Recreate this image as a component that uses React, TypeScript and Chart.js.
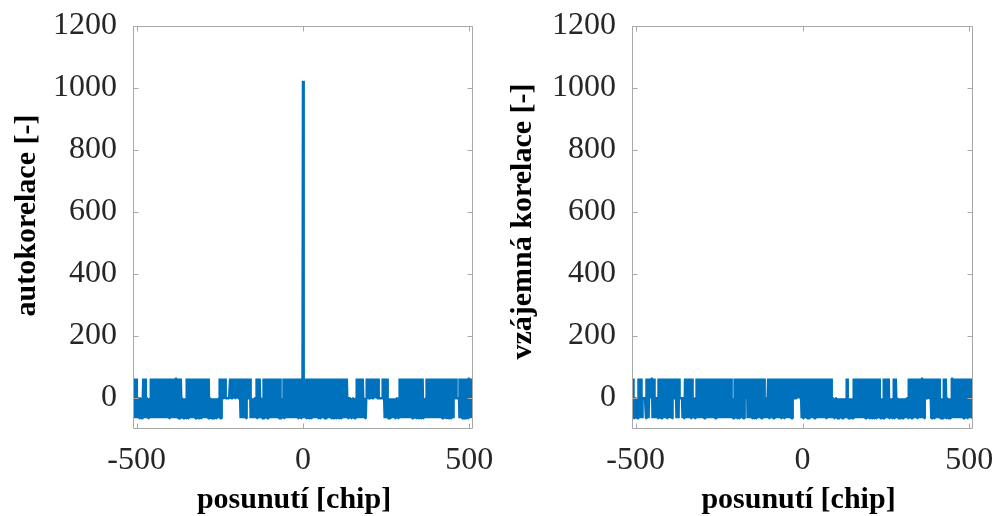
import { useEffect, useRef } from "react";
import { Chart, registerables } from "chart.js";

Chart.register(...registerables);

// ---- data -------------------------------------------------------------
const LAG_FIRST = -511; // first lag (chip), one value per chip up to +511
const X_MIN = -511;
const X_MAX = 511;
const X_TICKS = [-500, 0, 500];
const Y_MIN = -100;
const Y_MAX = 1200;
const Y_TICKS = [0, 200, 400, 600, 800, 1000, 1200];

// value codes: "+" = 63, "0" = -1, "-" = -65, "P" = 1023
const CODE: Record<string, number> = { "+": 63, "0": -1, "-": -65, P: 1023 };

// autocorrelation, 10 lags per group starting at -511
const AUTO_GROUPS = [
  "0+-0+0-+0-", "+0-0-00-0-", "-00-0-00-0", "0+-0+0-+0-", "0-00-0-0-0", "0-00+0-+0+", "-0+00+-0+0", "+0-00+0-+0", "0+0-+00-0+", "-+0+0-0+-0",
  "0-0+0-+0+-", "00+-0+-0+0", "0+-0+0-00+", "+-0+00-+0-", "0+-0+0-00-", "0-00-0-0-0", "-0+00+-0+0", "0+0-+00-0+", "+0-00+0-+0", "-+00+0-+0-",
  "0-0+0-+0+-", "-+0+0-0+-0", "0+-00+-0+-", "-00-0-00-0", "0-00-0-0-0", "-0-00-0-00", "0+-0+-0+0+", "+0+0+00+00", "0000000000", "00+0+00+0+",
  "0+00+0+0+0", "+00+0+00+0", "0+0+-0+-0+", "0+-0+0-00+", "-0+0+00+00", "+0+0-00-0-", "-00-0-00-0", "0+0-+00-0+", "-+0-00-0-0", "0-+0-+00+-",
  "00+-0+-0+0", "+-0+00-+0-", "-0+00+-0+0", "0-0+0-+0+-", "0+-+0-0-00", "-0+0-+0+-0", "+0-00+0-+0", "0+0-+00-0+", "-+0+0-0+-0", "0+-0+0-00+",
  "0-0+0-+0+-", "0P+0-0+-0+", "+-0+00-+0-", "-0+00+-0+0", "00+-0+-0+0", "+0-00+0-+0", "0+0-+00-0+", "-+0+0-0+-0", "0-0+0-+0+-", "0+-0+0-00+",
  "+0-+0-0-00", "+-0+00-+0-", "-0+00+-0+0", "0+0-+00-0+", "-+0+0-0-00", "0-00-0-0-0", "-00-0-00-0", "00+-0+-0+0", "+0-00+0-+0", "-+0-00-0-0",
  "-0+0+0+00+", "0+00+0+0+0", "+00+0+00+0", "0+0+00+0+0", "0000000000", "0+0+00+-0+", "-0+-0+0-0-", "-00-0-00-0", "0-00-0-0-0", "-0-00-0-00",
  "0-+0-+0+-0", "0+0-+00-0+", "-+0+0-0+-0", "0-0+0-+0+-", "0+-0+0-00+", "+-0+00-+0-", "-0+00+-0+0", "0+-0-00-0-", "00+-0+-0+0", "+0-00+0-+0",
  "0+0-+00-0+", "-+0+0-0+-0", "0-0+0-+0+-", "0+-0+0-00+", "+-0+00-+0-", "-0+00+-0+0", "-0+-+00+0+", "0+00000000", "0+-0+-0+0-", "+0-+0-+0-0",
  "0-0-+0+-0+", "+0-00+0-+0", "0+-",
];

// cross-correlation, 10 lags per group starting at -511
const CROSS_GROUPS = [
  "00+0+0-0-0", "-00-0-00-+", "-0+-0+0+-0", "0-00000000", "00-0+0-+0+", "-0+0+00+0+", "+0-0+-0+-0", "-00000-0-+", "0+0-+00-0+", "-+0+0-0+-0",
  "0-0+0-+0+-", "0+-0+0-00+", "-0+0+00+0+", "0+0-+0-+0+", "-+00000000", "0-00-0-0-+", "-0+00+-0+0", "+0-00+0-+0", "0+-0-00-0-", "-00-+0+-0+",
  "00+-0+-0+0", "+-0+00-+0-", "0+0-+00-0+", "-+0+0-0+-0", "0-0+0-+0+-", "0+-0+0-00+", "-0+00+-0+0", "+0-00+0-+0", "0+0-+00-0+", "-+0+0-0+-0",
  "0-0-00-+0+", "0-0+0-+0+-", "+-0+00-+0-", "00+-0+-0+0", "+0+00+-0+-", "0+-0+0-00+", "-0+00+-0+0", "+0-00+0-+0", "0+0-+00-0+", "-+0+0-0+-0",
  "0-0-00-0+-", "0-0+0-+0+-", "00+-0+-0+0", "+-0+00-+0-", "0+00+0+-0+", "0+-0+0-00+", "-0+00+-0+0", "+0-00+0-+0", "-0+0+00+0+", "+00+0+00+0",
  "0+0+00+0+-", "0+0-+00-0+", "-+0+0-0+-0", "0-0+0-+0+-", "+-0+00-+0-", "-0+00+-0+0", "00+-0+-0+0", "+0-00+0-+0", "0+-0+0-00+", "-0+-0+0+-0",
  "0-00-0-0-0", "-00-0-00-0", "0-0-00-0-0", "-00-0-00-0", "0-0+0+-0-0", "0-00-0-0-0", "-00-+0+-0+", "0+0-+00-0+", "-+0+0-0+-0", "0-0+0-+0+-",
  "0+-0+0-00+", "+-0+00-+0-", "-0+00+-0+0", "+0-00+0-+0", "0+-0-00-0-", "0-0-+0-+0+", "00+-0+-0+0", "+-0-00-0-0", "-0-0+0-+0+", "-+0-00-0-0",
  "0-00-0-0-0", "-00-0-00-0", "0-0-00-0-+", "0+0-+00-0+", "-+0+0-0+-0", "0-0+0-+0+-", "0+-0+0-00+", "+-0+00-+0+", "0+00+0+0+0", "+00+0+0-+0",
  "-0+00+-0+0", "+-0+00-+0-", "0+-0-00-0-", "-00-+0+-0+", "0+--00-0-0", "0-00-0-0-+", "+0-00+0-+0", "0+0-+00-0+", "-+0+0-0+-0", "00+-0+-0+0",
  "0-0+0-+0+-", "0+-0+0-00+", "-0+",
];

const X_TITLE = "posunutí [chip]";
const Y_TITLE_AUTO = "autokorelace [-]";
const Y_TITLE_CROSS = "vzájemná korelace [-]";

function decode(groups: string[]): number[] {
  return groups.join("").split("").map((c) => CODE[c]);
}
const AUTO_VALUES = decode(AUTO_GROUPS);
const CROSS_VALUES = decode(CROSS_GROUPS);

// ---- styles -----------------------------------------------------------
const LINE_COLOR = "#0072BD";
const AXIS_COLOR = "#a8a8a8";
const TICK_TEXT = "#262626";
const TITLE_TEXT = "#000000";
const SERIF = "'Liberation Serif', 'Times New Roman', serif";
const TICK_LEN = 5;

const boxPlugin = {
  id: "matlabBox",
  afterDatasetsDraw(chart: any) {
    const { ctx, chartArea: a, scales } = chart;
    const x = scales.x;
    const y = scales.y;
    const L = Math.round(a.left) + 0.5;
    const R = Math.round(a.right) - 0.5;
    const T = Math.round(a.top) + 0.5;
    const B = Math.round(a.bottom) - 0.5;
    ctx.save();
    ctx.strokeStyle = AXIS_COLOR;
    ctx.lineWidth = 1;
    ctx.beginPath();
    ctx.rect(L, T, R - L, B - T);
    for (const t of x.ticks) {
      const px = Math.round(x.getPixelForValue(t.value)) + 0.5;
      ctx.moveTo(px, B);
      ctx.lineTo(px, B - TICK_LEN);
      ctx.moveTo(px, T);
      ctx.lineTo(px, T + TICK_LEN);
    }
    for (const t of y.ticks) {
      const py = Math.round(y.getPixelForValue(t.value)) + 0.5;
      ctx.moveTo(L, py);
      ctx.lineTo(L + TICK_LEN, py);
      ctx.moveTo(R, py);
      ctx.lineTo(R - TICK_LEN, py);
    }
    ctx.stroke();
    ctx.restore();
  },
};

// nudge an axis title (the reference labels sit slightly off-centre)
function shiftTitle(s: any, dx: number, dy: number) {
  if (s.__titleShifted) return;
  const orig = s.drawTitle.bind(s);
  s.drawTitle = () => {
    s.ctx.save();
    s.ctx.translate(dx, dy);
    orig();
    s.ctx.restore();
  };
  s.__titleShifted = true;
}

type PanelCfg = {
  values: number[];
  yTitle: string;
  yWidth: number;
  padRight: number;
  xTitleDx: number;
  yTitleDy: number;
};

function makeConfig(p: PanelCfg): any {
  return {
    type: "line",
    data: {
      datasets: [
        {
          data: p.values.map((v, i) => ({ x: LAG_FIRST + i, y: v })),
          borderColor: LINE_COLOR,
          backgroundColor: LINE_COLOR,
          borderWidth: 2.5,
          borderJoinStyle: "bevel",
          pointRadius: 0,
          tension: 0,
          fill: false,
        },
      ],
    },
    options: {
      animation: false,
      responsive: false,
      devicePixelRatio: 1,
      layout: { padding: { left: 0, right: p.padRight, top: 26, bottom: 0 } },
      plugins: {
        legend: { display: false },
        tooltip: { enabled: false },
        title: { display: false },
      },
      scales: {
        x: {
          type: "linear",
          min: X_MIN,
          max: X_MAX,
          afterBuildTicks: (s: any) => {
            s.ticks = X_TICKS.map((v) => ({ value: v }));
          },
          afterFit: (s: any) => {
            s.height = 87;
            s.paddingLeft = 0;
            s.paddingRight = 0;
          },
          afterUpdate: (s: any) => shiftTitle(s, p.xTitleDx, 0),
          grid: { display: false, drawTicks: false },
          border: { display: false },
          ticks: {
            font: { family: SERIF, size: 32 },
            color: TICK_TEXT,
            padding: 12,
            maxRotation: 0,
            autoSkip: false,
            callback: (v: any) => String(v),
          },
          title: {
            display: true,
            text: X_TITLE,
            color: TITLE_TEXT,
            font: { family: SERIF, size: 30, weight: "bold", lineHeight: 1 },
            padding: { top: 0, bottom: 1 },
          },
        },
        y: {
          type: "linear",
          min: Y_MIN,
          max: Y_MAX,
          afterBuildTicks: (s: any) => {
            s.ticks = Y_TICKS.map((v) => ({ value: v }));
          },
          afterFit: (s: any) => {
            s.width = p.yWidth;
            s.paddingTop = 0;
            s.paddingBottom = 0;
          },
          afterUpdate: (s: any) => shiftTitle(s, 0, p.yTitleDy),
          grid: { display: false, drawTicks: false },
          border: { display: false },
          ticks: {
            font: { family: SERIF, size: 32 },
            color: TICK_TEXT,
            padding: 16,
            autoSkip: false,
            callback: (v: any) => String(v),
          },
          title: {
            display: true,
            text: p.yTitle,
            color: TITLE_TEXT,
            font: { family: SERIF, size: 30, weight: "bold", lineHeight: 1 },
            padding: { top: 12, bottom: 0 },
          },
        },
      },
    },
    plugins: [boxPlugin],
  };
}

function Panel(props: PanelCfg & { left: number }) {
  const ref = useRef<HTMLCanvasElement | null>(null);
  useEffect(() => {
    if (!ref.current) return;
    const chart = new Chart(ref.current, makeConfig(props));
    return () => chart.destroy();
  }, []);
  return (
    <canvas
      ref={ref}
      width={496}
      height={516}
      style={{ position: "absolute", left: props.left, top: 0, width: 496, height: 516 }}
    />
  );
}

export default function App() {
  return (
    <div style={{ position: "absolute", left: 0, top: 0, width: 992, height: 516, background: "#fff", overflow: "hidden" }}>
      <Panel values={AUTO_VALUES} yTitle={Y_TITLE_AUTO} left={0} yWidth={133} padRight={23} xTitleDx={-9} yTitleDy={-12} />
      <Panel values={CROSS_VALUES} yTitle={Y_TITLE_CROSS} left={496} yWidth={136} padRight={19} xTitleDx={-4} yTitleDy={-6} />
    </div>
  );
}
